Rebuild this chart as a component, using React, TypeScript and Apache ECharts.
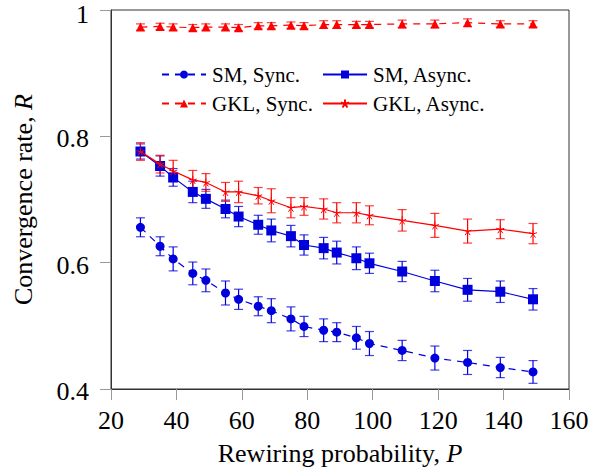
import React, { useEffect, useRef } from "react";
import * as echarts from "echarts";

const xValues = [29, 35, 39, 45, 49, 55, 59, 65, 69, 75, 79, 85, 89, 95, 99, 109, 119, 129, 139, 149];

const smSync = [0.656, 0.626, 0.606, 0.583, 0.572, 0.552, 0.542, 0.531, 0.524, 0.511, 0.499, 0.493, 0.49, 0.481, 0.472, 0.461, 0.449, 0.442, 0.434, 0.427];
const smSyncErr = [0.015, 0.015, 0.019, 0.018, 0.018, 0.019, 0.016, 0.015, 0.019, 0.019, 0.016, 0.018, 0.015, 0.018, 0.019, 0.016, 0.019, 0.019, 0.016, 0.018];

const smAsync = [0.776, 0.753, 0.735, 0.712, 0.701, 0.685, 0.673, 0.66, 0.651, 0.642, 0.628, 0.623, 0.616, 0.607, 0.599, 0.586, 0.571, 0.557, 0.554, 0.542];
const smAsyncErr = [0.012, 0.016, 0.014, 0.017, 0.015, 0.014, 0.016, 0.015, 0.018, 0.017, 0.016, 0.017, 0.018, 0.018, 0.016, 0.016, 0.017, 0.018, 0.017, 0.017];

const gklSync = [0.973, 0.974, 0.973, 0.972, 0.973, 0.973, 0.972, 0.975, 0.975, 0.976, 0.975, 0.977, 0.977, 0.977, 0.977, 0.978, 0.978, 0.98, 0.978, 0.978];
const gklSyncErr = [0.005, 0.005, 0.005, 0.005, 0.005, 0.005, 0.005, 0.005, 0.005, 0.005, 0.005, 0.006, 0.006, 0.005, 0.005, 0.006, 0.006, 0.006, 0.005, 0.005];

const gklAsync = [0.776, 0.756, 0.745, 0.731, 0.727, 0.712, 0.712, 0.706, 0.698, 0.687, 0.689, 0.685, 0.679, 0.679, 0.675, 0.667, 0.659, 0.65, 0.653, 0.646];
const gklAsyncErr = [0.014, 0.014, 0.017, 0.015, 0.014, 0.015, 0.017, 0.013, 0.019, 0.016, 0.014, 0.016, 0.016, 0.016, 0.015, 0.017, 0.019, 0.019, 0.015, 0.016];

const seriesNames = ["SM, Sync.", "SM, Async.", "GKL, Sync.", "GKL, Async."];
const xTicks = { min: 20, max: 160, interval: 20 };
const yTicks = { min: 0.4, max: 1, interval: 0.2 };

const BLUE = "#0000dd";
const RED = "#ff0000";
const FONT = "Liberation Serif";
const STAR = "path://M0,0L0,-10M0,0L9.51,-3.09M0,0L5.88,8.09M0,0L-5.88,8.09M0,0L-9.51,-3.09";

function pairs(vals: number[]) {
  return xValues.map((x, i) => [x, vals[i]]);
}
function errData(vals: number[], errs: number[]) {
  return xValues.map((x, i) => [x, vals[i] - errs[i], vals[i] + errs[i]]);
}
function errSeries(vals: number[], errs: number[], color: string) {
  return {
    type: "custom",
    data: errData(vals, errs),
    encode: { x: 0, y: [1, 2] },
    z: 3,
    silent: true,
    renderItem: (params: any, api: any) => {
      const x = api.value(0);
      const lo = api.coord([x, api.value(1)]);
      const hi = api.coord([x, api.value(2)]);
      const hw = 4.5;
      const st = { stroke: color, lineWidth: 1.2 };
      return {
        type: "group",
        children: [
          { type: "line", shape: { x1: lo[0], y1: lo[1], x2: hi[0], y2: hi[1] }, style: st },
          { type: "line", shape: { x1: lo[0] - hw, y1: lo[1], x2: lo[0] + hw, y2: lo[1] }, style: { ...st, opacity: 0.75 } },
          { type: "line", shape: { x1: hi[0] - hw, y1: hi[1], x2: hi[0] + hw, y2: hi[1] }, style: { ...st, opacity: 0.75 } },
        ],
      };
    },
  };
}

const legendBase = {
  orient: "horizontal",
  padding: 0,
  itemWidth: 44,
  itemHeight: 10,
  selectedMode: false,
  textStyle: { fontFamily: FONT, fontSize: 21, color: "#000", padding: [0, 0, 0, 1] },
};

const labelTxt = { fontFamily: FONT, fontSize: 26, color: "#000" };

export default function App() {
  const ref = useRef<HTMLDivElement>(null);
  useEffect(() => {
    document.body.style.margin = "0";
    const chart = echarts.init(ref.current!, null, { renderer: "svg" });
    chart.setOption({
      animation: false,
      backgroundColor: "#fff",
      textStyle: { fontFamily: FONT },
      grid: {
        left: 111, right: 29, top: 10, bottom: 80,
        containLabel: false, outerBoundsMode: "none",
        show: true, borderColor: "#333", borderWidth: 1,
      },
      legend: [
        { ...legendBase, data: [seriesNames[0]], left: 161, top: 64 },
        { ...legendBase, data: [seriesNames[1]], left: 322, top: 64 },
        { ...legendBase, data: [seriesNames[2]], left: 161, top: 93 },
        { ...legendBase, data: [seriesNames[3]], left: 322, top: 93 },
      ],
      xAxis: {
        type: "value",
        min: xTicks.min,
        max: xTicks.max,
        interval: xTicks.interval,
        name: "Rewiring probability, {i|P}",
        nameLocation: "middle",
        nameGap: 50,
        nameTextStyle: { ...labelTxt, lineHeight: 28, rich: { i: { ...labelTxt, lineHeight: 28, fontStyle: "italic" } } },
        axisLine: { lineStyle: { color: "#333", width: 1 } },
        axisTick: { show: true, length: 11, lineStyle: { color: "#999" } },
        axisLabel: { ...labelTxt, margin: 18 },
        splitLine: { show: false },
      },
      yAxis: {
        type: "value",
        min: yTicks.min,
        max: yTicks.max,
        interval: yTicks.interval,
        name: "Convergence rate, {i|R}",
        nameLocation: "middle",
        nameGap: 75,
        nameTextStyle: { ...labelTxt, rich: { i: { ...labelTxt, fontStyle: "italic" } } },
        axisLine: { show: true, lineStyle: { color: "#333", width: 1 } },
        axisTick: { show: true, length: 11, lineStyle: { color: "#999" } },
        axisLabel: {
          ...labelTxt,
          margin: 22,
          formatter: (v: number) => (Math.abs(v - yTicks.max) < 1e-9 ? "{t|1}" : "{n|" + +v.toFixed(1) + "}"),
          rich: {
            n: { ...labelTxt, padding: [5, 0, 0, 0] },
            t: { ...labelTxt, padding: [9, 0, 0, 0] },
          },
        },
        splitLine: { show: false },
      },
      series: [
        {
          name: seriesNames[0],
          type: "line",
          data: pairs(smSync),
          symbol: "circle",
          symbolSize: 9,
          lineStyle: { color: BLUE, width: 1.2, type: [7, 6] },
          itemStyle: { color: BLUE },
          z: 4,
        },
        {
          name: seriesNames[1],
          type: "line",
          data: pairs(smAsync),
          symbol: "rect",
          symbolSize: 10,
          lineStyle: { color: BLUE, width: 1.2 },
          itemStyle: { color: BLUE },
          z: 4,
        },
        {
          name: seriesNames[2],
          type: "line",
          data: pairs(gklSync),
          symbol: "triangle",
          symbolSize: 9,
          lineStyle: { color: RED, width: 1.2, type: [7, 6] },
          itemStyle: { color: RED },
          z: 4,
        },
        {
          name: seriesNames[3],
          type: "line",
          data: pairs(gklAsync),
          symbol: STAR,
          symbolSize: 8,
          lineStyle: { color: RED, width: 1.2 },
          itemStyle: { color: "none", borderColor: RED, borderWidth: 1 },
          z: 5,
        },
        errSeries(smSync, smSyncErr, BLUE),
        errSeries(smAsync, smAsyncErr, BLUE),
        errSeries(gklSync, gklSyncErr, RED),
        errSeries(gklAsync, gklAsyncErr, RED),
      ],
    });
    return () => chart.dispose();
  }, []);
  return <div ref={ref} style={{ width: 598, height: 469 }} />;
}
